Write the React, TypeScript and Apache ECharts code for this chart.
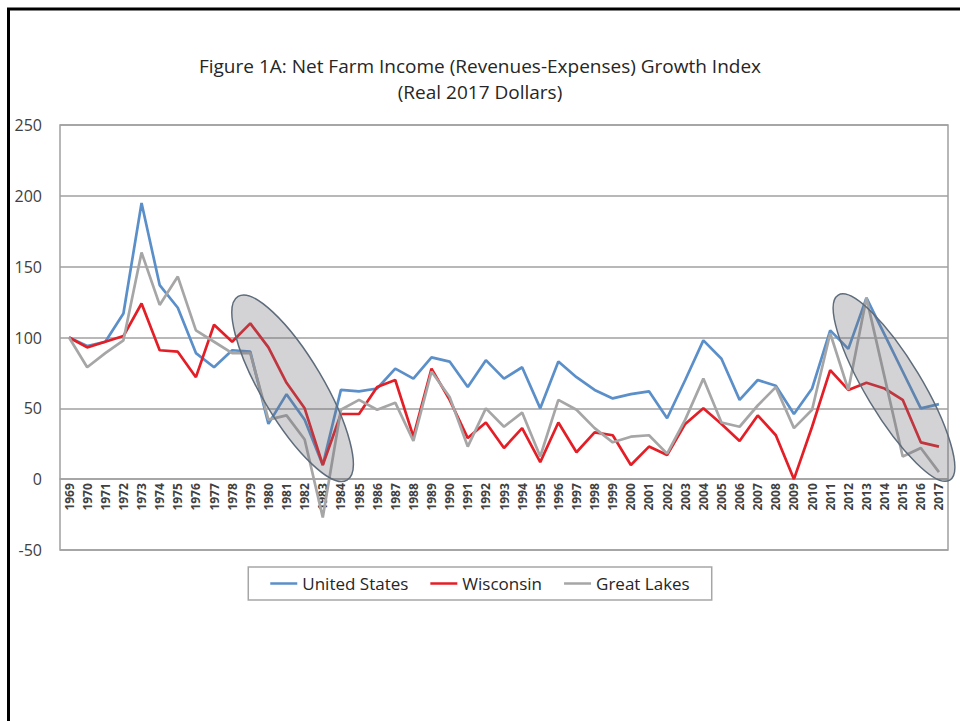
import React, { useEffect, useRef } from "react";
import * as echarts from "echarts";

const years: string[] = [
  "1969", "1970", "1971", "1972", "1973", "1974", "1975", "1976", "1977", "1978",
  "1979", "1980", "1981", "1982", "1983", "1984", "1985", "1986", "1987", "1988",
  "1989", "1990", "1991", "1992", "1993", "1994", "1995", "1996", "1997", "1998",
  "1999", "2000", "2001", "2002", "2003", "2004", "2005", "2006", "2007", "2008",
  "2009", "2010", "2011", "2012", "2013", "2014", "2015", "2016", "2017",
];

const unitedStates: number[] = [
  100, 94, 97, 117, 195, 137, 121, 89, 79, 91,
  90, 39, 60, 42, 10, 63, 62, 64, 78, 71,
  86, 83, 65, 84, 71, 79, 50, 83, 72, 63,
  57, 60, 62, 43, 70, 98, 85, 56, 70, 66,
  46, 64, 105, 92, 128, 102, 76, 50, 53,
];

const wisconsin: number[] = [
  100, 93, 97, 101, 124, 91, 90, 72, 109, 97,
  110, 93, 68, 50, 10, 46, 46, 65, 70, 30,
  78, 56, 29, 40, 22, 36, 12, 40, 19, 33,
  31, 10, 23, 17, 39, 50, 39, 27, 45, 31,
  0, 37, 77, 63, 68, 64, 56, 26, 23,
];

const greatLakes: number[] = [
  100, 79, 89, 98, 160, 123, 143, 105, 97, 89,
  89, 42, 45, 28, -27, 49, 56, 49, 54, 27,
  76, 58, 23, 50, 37, 47, 16, 56, 49, 36,
  26, 30, 31, 18, 42, 71, 40, 37, 52, 65,
  36, 49, 103, 63, 128, 72, 16, 22, 5,
];

const seriesNames = ["United States", "Wisconsin", "Great Lakes"];
const titleLine1 = "Figure 1A: Net Farm Income (Revenues-Expenses) Growth Index";
const titleLine2 = "(Real 2017 Dollars)";
const yMin = -50;
const yMax = 250;
const yStep = 50;

// Highlight ellipses: major axis from [categoryIndex, value] to [categoryIndex, value]
const highlight1 = { from: [9.33, 129], to: [15.34, -0.7] };
const highlight2 = { from: [42.44, 130], to: [48.6, -0.7] };

const FONT = "Open Sans";
const GRID_TOP = 125;
const GRID_BOTTOM = 171;
const GRID_HEIGHT = 721 - GRID_TOP - GRID_BOTTOM;

export default function App() {
  const ref = useRef<HTMLDivElement>(null);

  useEffect(() => {
    if (!ref.current) return;
    const chart = echarts.init(ref.current, null, { renderer: "svg" });
    const zeroOffset = -(GRID_HEIGHT * (0 - yMin)) / (yMax - yMin);
    const titleStyle = {
      fontFamily: FONT,
      fontSize: 19,
      fontWeight: "normal",
      color: "#262626",
    };
    const option: any = {
      animation: false,
      backgroundColor: "#ffffff",
      title: [
        { text: titleLine1, left: "center", top: 51, textStyle: titleStyle },
        { text: titleLine2, left: "center", top: 77, textStyle: titleStyle },
      ],
      legend: {
        data: seriesNames,
        top: 567,
        left: "center",
        icon: "rect",
        itemWidth: 27,
        itemHeight: 2.5,
        itemGap: 22,
        padding: [8, 22],
        borderColor: "#a6a6a6",
        borderWidth: 1.5,
        textStyle: { fontFamily: FONT, fontSize: 17, color: "#262626" },
      },
      grid: {
        left: 60,
        right: 12,
        top: GRID_TOP,
        bottom: GRID_BOTTOM,
        show: true,
        borderColor: "#a0a0a0",
        borderWidth: 1.5,
        containLabel: false,
      },
      xAxis: {
        type: "category",
        data: years,
        boundaryGap: true,
        position: "bottom",
        offset: zeroOffset,
        axisLine: { onZero: false, lineStyle: { color: "#a0a0a0", width: 1.5 } },
        axisTick: { show: false },
        axisLabel: {
          interval: 0,
          rotate: 90,
          margin: 4,
          fontFamily: FONT,
          fontSize: 12,
          fontWeight: "bold",
          color: "#404040",
        },
        splitLine: { show: false },
      },
      yAxis: {
        type: "value",
        min: yMin,
        max: yMax,
        interval: yStep,
        axisLine: { show: false },
        axisTick: { show: false },
        axisLabel: { fontFamily: FONT, fontSize: 16, color: "#404040", margin: 18 },
        splitLine: { lineStyle: { color: "#a0a0a0", width: 1.5 } },
      },
      series: [
        { name: seriesNames[0], type: "line", data: unitedStates, symbol: "none", color: "#5b8fc9", lineStyle: { width: 2.7, color: "#5b8fc9" } },
        { name: seriesNames[1], type: "line", data: wisconsin, symbol: "none", color: "#e41e26", lineStyle: { width: 2.7, color: "#e41e26" } },
        { name: seriesNames[2], type: "line", data: greatLakes, symbol: "none", color: "#a6a6a6", lineStyle: { width: 2.7, color: "#a6a6a6" } },
      ],
    };
    chart.setOption(option);

    const p0 = chart.convertToPixel({ gridIndex: 0 }, [0, 0]) as number[];
    const pN = chart.convertToPixel({ gridIndex: 0 }, [years.length - 1, 0]) as number[];
    const toPx = (c: number[]) => {
      const x = p0[0] + ((pN[0] - p0[0]) * c[0]) / (years.length - 1);
      const y = chart.convertToPixel({ yAxisIndex: 0 }, c[1]) as number;
      return [x, y];
    };
    const ellipse = (h: { from: number[]; to: number[] }, ry: number) => {
      const a = toPx(h.from);
      const b = toPx(h.to);
      const dx = b[0] - a[0];
      const dy = b[1] - a[1];
      const rx = Math.sqrt(dx * dx + dy * dy) / 2;
      return {
        type: "ellipse",
        x: (a[0] + b[0]) / 2,
        y: (a[1] + b[1]) / 2,
        rotation: -Math.atan2(dy, dx),
        shape: { cx: 0, cy: 0, rx, ry },
        style: { fill: "rgba(110,110,118,0.3)", stroke: "#5d6b7a", lineWidth: 1.5 },
        z: 100,
      };
    };

    chart.setOption({
      graphic: [
        {
          type: "rect",
          shape: { x: 8.5, y: 9, width: 1000, height: 800 },
          style: { fill: "none", stroke: "#000000", lineWidth: 3 },
          z: 100,
        },
        ellipse(highlight1, 31),
        ellipse(highlight2, 28),
      ],
    });

    return () => chart.dispose();
  }, []);

  return (
    <div
      ref={ref}
      style={{ position: "fixed", left: 0, top: 0, width: 960, height: 721, background: "#ffffff" }}
    />
  );
}
